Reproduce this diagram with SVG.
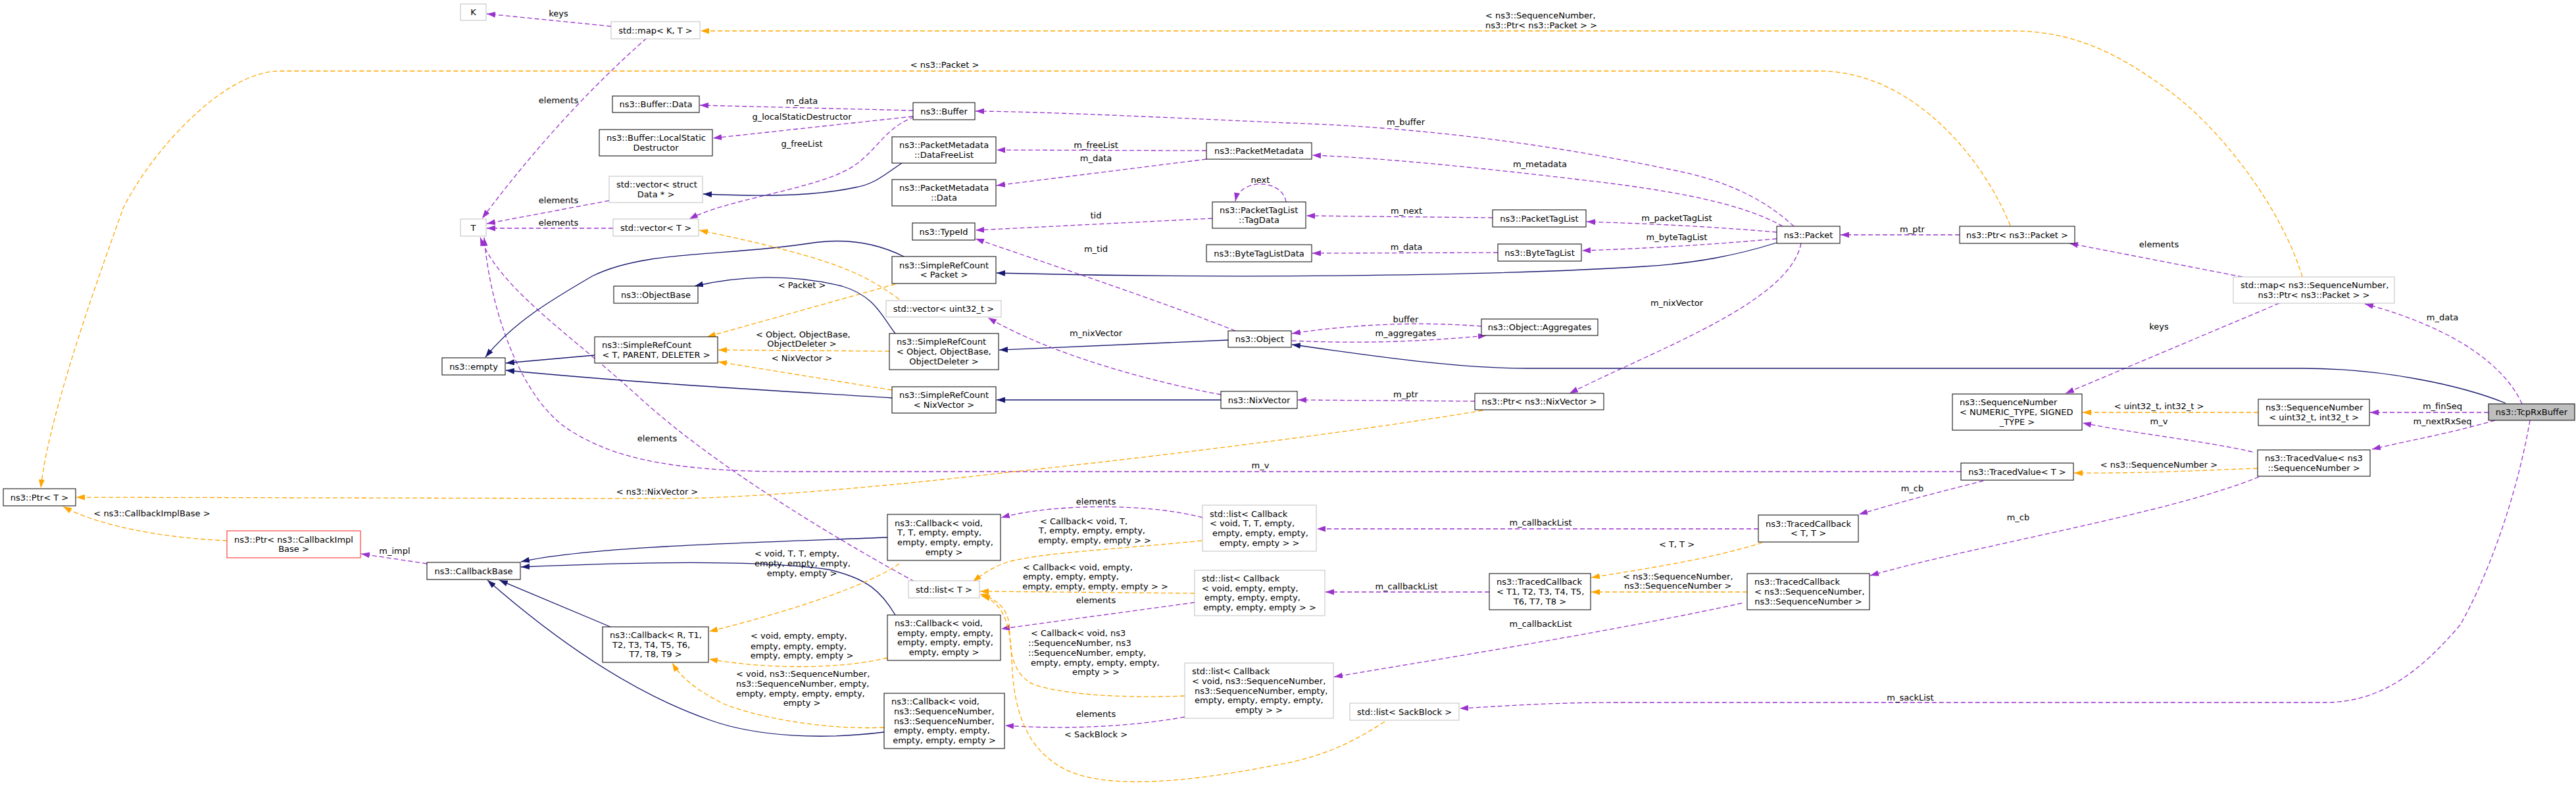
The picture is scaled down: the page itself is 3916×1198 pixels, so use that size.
<svg xmlns="http://www.w3.org/2000/svg" width="3916" height="1198" viewBox="0 0 3916 1198">
<style>
rect.n{fill:#fff;stroke:#000;stroke-width:1}
rect.g{fill:#fff;stroke:#bfbfbf;stroke-width:1}
rect.r{fill:#fff;stroke:#ff5050;stroke-width:1.3}
rect.h{fill:#bfbfbf;stroke:#000;stroke-width:1}
text{font-family:"DejaVu Sans","Liberation Sans",sans-serif;font-size:13px;fill:#000}
.m{text-anchor:middle}
path.ep{fill:none;stroke:#9a32cd;stroke-width:1.3;stroke-dasharray:7,4;marker-end:url(#ap)}
path.eo{fill:none;stroke:#ffa500;stroke-width:1.3;stroke-dasharray:7,4;marker-end:url(#ao)}
path.eb{fill:none;stroke:#191970;stroke-width:1.3;marker-end:url(#ab)}
</style>
<defs>
<marker id="ap" viewBox="0 0 10 10" refX="10" refY="5" markerWidth="13" markerHeight="9" markerUnits="userSpaceOnUse" orient="auto" preserveAspectRatio="none"><path d="M0,0L10,5L0,10z" fill="#9a32cd"/></marker>
<marker id="ao" viewBox="0 0 10 10" refX="10" refY="5" markerWidth="13" markerHeight="9" markerUnits="userSpaceOnUse" orient="auto" preserveAspectRatio="none"><path d="M0,0L10,5L0,10z" fill="#ffa500"/></marker>
<marker id="ab" viewBox="0 0 10 10" refX="10" refY="5" markerWidth="13" markerHeight="9" markerUnits="userSpaceOnUse" orient="auto" preserveAspectRatio="none"><path d="M0,0L10,5L0,10z" fill="#191970"/></marker>
</defs>
<rect width="3916" height="1198" fill="#fff"/>
<g id="connectors">
<path class="ep" d="M929,40 L740,21"/>
<path class="ep" d="M983,58 C890,140 808,232 733,332"/>
<path class="ep" d="M926,305 L740,340"/>
<path class="ep" d="M932,347 L740,347"/>
<path class="ep" d="M1390,884 C1300,835 1100,720 975,607 C870,510 760,440 730,361"/>
<path class="ep" d="M2981,717 L1200,717 C1000,717 920,690 860,650 C790,600 745,470 736,361"/>
<path class="eo" d="M3056,343 C3010,230 2900,108 2766,108 L425,108 C340,108 230,230 187,317 C165,380 75,620 62,742"/>
<path class="eo" d="M3500,421 C3470,320 3380,200 3300,140 C3220,80 3150,47 3060,47 L1065,47"/>
<path class="ep" d="M1388,168 L1064,160"/>
<path class="ep" d="M1388,177 L1084,210"/>
<path class="ep" d="M1390,178 C1340,195 1330,240 1280,262 C1220,290 1100,305 1048,333"/>
<path class="eb" d="M1371,248 C1345,265 1330,280 1300,285 C1230,300 1140,298 1069,295"/>
<path class="ep" d="M1834,229 L1515,228"/>
<path class="ep" d="M1834,242 L1515,282"/>
<path class="ep" d="M1843,332 L1483,350"/>
<path class="ep" d="M1955,307 C1950,272 1885,270 1878,306"/>
<path class="ep" d="M2269,331 L1986,328"/>
<path class="ep" d="M2277,384 L1995,385"/>
<path class="ep" d="M2727,344 C2690,310 2640,280 2560,262 C2400,228 2200,195 1960,187 C1800,180 1600,170 1483,169"/>
<path class="ep" d="M2710,344 C2650,310 2550,290 2400,273 C2250,255 2100,240 1995,236"/>
<path class="ep" d="M2701,353 C2600,344 2500,340 2412,337"/>
<path class="ep" d="M2701,363 C2600,372 2500,378 2405,381"/>
<path class="eb" d="M2701,369 C2640,388 2580,400 2500,405 C2300,418 1900,425 1515,415"/>
<path class="ep" d="M2738,370 C2720,460 2520,530 2386,598"/>
<path class="ep" d="M2979,357 L2798,357"/>
<path class="ep" d="M3409,421 L3146,370"/>
<path class="ep" d="M3465,461 L3140,598"/>
<path class="ep" d="M3834,614 C3800,540 3700,490 3595,462"/>
<path class="eb" d="M3809,613 C3740,585 3620,560 3500,560 L2320,560 C2200,560 2050,535 1964,524"/>
<path class="eb" d="M1867,517 L1519,532"/>
<path class="ep" d="M2252,496 C2150,488 2050,494 1964,507"/>
<path class="ep" d="M1964,518 C2050,522 2150,521 2260,510"/>
<path class="ep" d="M1878,503 C1770,460 1620,410 1483,363"/>
<path class="ep" d="M1856,600 C1750,580 1600,540 1502,483"/>
<path class="ep" d="M2242,610 L1973,608"/>
<path class="eb" d="M1856,608 L1515,608"/>
<path class="eo" d="M1361,432 L1075,512"/>
<path class="eo" d="M1352,534 L1092,532"/>
<path class="eo" d="M1356,593 L1092,550"/>
<path class="eb" d="M904,540 L769,552"/>
<path class="eb" d="M1356,605 C1200,595 1000,585 769,563"/>
<path class="eb" d="M1374,390 C1330,368 1280,362 1230,370 C1100,390 980,380 900,420 C840,455 780,490 738,543"/>
<path class="eb" d="M1361,507 C1340,480 1330,450 1280,435 C1200,415 1120,420 1056,435"/>
<path class="eo" d="M1367,455 C1320,420 1280,405 1230,390 C1160,370 1110,360 1063,350"/>
<path class="eo" d="M2254,624 C2100,650 1800,690 1542,717 C1300,745 1100,760 980,758 L116,756"/>
<path class="eo" d="M345,822 C250,818 150,800 96,770"/>
<path class="ep" d="M649,857 L549,842"/>
<path class="eb" d="M1349,817 C1150,825 900,830 792,854"/>
<path class="eb" d="M1361,935 C1340,900 1320,880 1260,866 C1150,850 950,855 792,862"/>
<path class="eb" d="M928,953 L759,882"/>
<path class="eb" d="M1344,1113 C1250,1125 1150,1120 1080,1095 C950,1050 830,960 741,882"/>
<path class="eo" d="M1367,857 C1320,890 1200,930 1078,960"/>
<path class="eo" d="M1349,1000 C1290,1015 1180,1020 1078,1002"/>
<path class="eo" d="M1344,1106 C1250,1110 1150,1090 1100,1070 C1060,1050 1035,1030 1022,1008"/>
<path class="ep" d="M1828,787 C1750,765 1600,765 1522,787"/>
<path class="eo" d="M1827,822 C1700,835 1580,840 1530,855 C1510,862 1495,872 1479,884"/>
<path class="eo" d="M1816,902 L1490,899"/>
<path class="ep" d="M1816,916 L1522,956"/>
<path class="eo" d="M1801,1058 C1700,1062 1610,1055 1570,1040 C1540,1025 1535,990 1535,960 C1535,930 1520,912 1490,903"/>
<path class="ep" d="M1801,1090 C1700,1108 1600,1108 1528,1103"/>
<path class="eo" d="M2105,1097 C2040,1140 1990,1155 1930,1165 C1800,1190 1680,1200 1620,1170 C1560,1140 1540,1080 1538,1000 C1536,950 1525,915 1492,906"/>
<path class="ep" d="M3846,639 C3825,760 3780,880 3740,950 C3680,1020 3620,1068 3534,1068 L2460,1068 C2350,1068 2280,1074 2219,1077"/>
<path class="ep" d="M3783,627 L3603,627"/>
<path class="ep" d="M3793,639 C3720,660 3660,670 3606,683"/>
<path class="eo" d="M3433,627 L3166,627"/>
<path class="ep" d="M3424,687 C3350,670 3250,660 3166,643"/>
<path class="eo" d="M3432,712 C3350,715 3250,720 3153,719"/>
<path class="ep" d="M3015,731 C2960,745 2900,760 2826,782"/>
<path class="ep" d="M3434,725 C3300,780 3000,830 2843,875"/>
<path class="ep" d="M2673,804 L2002,804"/>
<path class="eo" d="M2679,825 C2600,850 2500,865 2419,878"/>
<path class="ep" d="M2264,900 L2015,900"/>
<path class="eo" d="M2656,900 L2419,900"/>
<path class="ep" d="M2648,917 C2450,960 2200,1000 2028,1029"/>
<g id="edge-labels">
<text class="m" x="849" y="25">keys</text>
<text class="m" x="849" y="157">elements</text>
<text class="m" x="849" y="309">elements</text>
<text class="m" x="849" y="343">elements</text>
<text class="m" x="999" y="671">elements</text>
<text class="m" x="1916" y="712">m_v</text>
<text class="m" x="1436" y="103">&lt; ns3::Packet &gt;</text>
<text x="2258" y="28">&lt; ns3::SequenceNumber,</text>
<text x="2258" y="43">ns3::Ptr&lt; ns3::Packet &gt; &gt;</text>
<text class="m" x="1219" y="158">m_data</text>
<text class="m" x="1219" y="182">g_localStaticDestructor</text>
<text class="m" x="1219" y="223">g_freeList</text>
<text class="m" x="1666" y="225">m_freeList</text>
<text class="m" x="1666" y="245">m_data</text>
<text class="m" x="1666" y="332">tid</text>
<text class="m" x="1916" y="278">next</text>
<text class="m" x="2138" y="325">m_next</text>
<text class="m" x="2138" y="380">m_data</text>
<text class="m" x="2137" y="190">m_buffer</text>
<text class="m" x="2341" y="254">m_metadata</text>
<text class="m" x="2549" y="336">m_packetTagList</text>
<text class="m" x="2549" y="365">m_byteTagList</text>
<text class="m" x="2549" y="465">m_nixVector</text>
<text class="m" x="2907" y="353">m_ptr</text>
<text class="m" x="3282" y="376">elements</text>
<text class="m" x="3282" y="501">keys</text>
<text class="m" x="3713" y="487">m_data</text>
<text class="m" x="2137" y="490">buffer</text>
<text class="m" x="2137" y="511">m_aggregates</text>
<text class="m" x="1666" y="383">m_tid</text>
<text class="m" x="1666" y="511">m_nixVector</text>
<text class="m" x="2137" y="604">m_ptr</text>
<text class="m" x="1219" y="438">&lt; Packet &gt;</text>
<text x="1149" y="513">&lt; Object, ObjectBase,</text>
<text class="m" x="1219" y="527">ObjectDeleter &gt;</text>
<text class="m" x="1219" y="549">&lt; NixVector &gt;</text>
<text class="m" x="999" y="752">&lt; ns3::NixVector &gt;</text>
<text class="m" x="231" y="785">&lt; ns3::CallbackImplBase &gt;</text>
<text class="m" x="600" y="842">m_impl</text>
<text x="1147" y="846">&lt; void, T, T, empty,</text>
<text x="1147" y="861">empty, empty, empty,</text>
<text class="m" x="1219" y="876">empty, empty &gt;</text>
<text x="1141" y="971">&lt; void, empty, empty,</text>
<text x="1141" y="987">empty, empty, empty,</text>
<text class="m" x="1219" y="1001">empty, empty, empty &gt;</text>
<text x="1119" y="1029">&lt; void, ns3::SequenceNumber,</text>
<text x="1119" y="1044">ns3::SequenceNumber, empty,</text>
<text x="1119" y="1059">empty, empty, empty, empty,</text>
<text class="m" x="1219" y="1073">empty &gt;</text>
<text class="m" x="1666" y="767">elements</text>
<text x="1581" y="797">&lt; Callback&lt; void, T,</text>
<text x="1579" y="811">T, empty, empty, empty,</text>
<text class="m" x="1664" y="826">empty, empty, empty &gt; &gt;</text>
<text x="1555" y="867">&lt; Callback&lt; void, empty,</text>
<text x="1555" y="881">empty, empty, empty,</text>
<text class="m" x="1665" y="896">empty, empty, empty, empty &gt; &gt;</text>
<text class="m" x="1666" y="917">elements</text>
<text x="1567" y="967">&lt; Callback&lt; void, ns3</text>
<text x="1563" y="982">::SequenceNumber, ns3</text>
<text x="1563" y="997">::SequenceNumber, empty,</text>
<text x="1567" y="1012">empty, empty, empty, empty,</text>
<text class="m" x="1666" y="1026">empty &gt; &gt;</text>
<text class="m" x="1666" y="1090">elements</text>
<text class="m" x="1666" y="1121">&lt; SackBlock &gt;</text>
<text class="m" x="2904" y="1065">m_sackList</text>
<text class="m" x="3713" y="622">m_finSeq</text>
<text class="m" x="3713" y="645">m_nextRxSeq</text>
<text class="m" x="3282" y="622">&lt; uint32_t, int32_t &gt;</text>
<text class="m" x="3282" y="645">m_v</text>
<text class="m" x="3282" y="711">&lt; ns3::SequenceNumber &gt;</text>
<text class="m" x="2907" y="747">m_cb</text>
<text class="m" x="3068" y="791">m_cb</text>
<text class="m" x="2342" y="799">m_callbackList</text>
<text class="m" x="2549" y="832">&lt; T, T &gt;</text>
<text class="m" x="2138" y="896">m_callbackList</text>
<text x="2467" y="881">&lt; ns3::SequenceNumber,</text>
<text x="2469" y="895">ns3::SequenceNumber &gt;</text>
<text class="m" x="2342" y="953">m_callbackList</text>
</g>
</g>
<g id="K"><rect class="g" x="700" y="6" width="39" height="25"/><text class="m" x="719.5" y="23">K</text></g>
<g id="map_K_T"><rect class="g" x="929" y="33" width="135" height="26"/><text class="m" x="996.5" y="50.5">std::map&lt; K, T &gt;</text></g>
<g id="Buffer_Data"><rect class="n" x="931" y="146" width="132" height="25"/><text class="m" x="997" y="163">ns3::Buffer::Data</text></g>
<g id="Buffer_LocalStaticDestructor"><rect class="n" x="911" y="197" width="172" height="40"/><text x="922" y="214.2">ns3::Buffer::LocalStatic</text><text class="m" x="997" y="228.8">Destructor</text></g>
<g id="vector_struct_Data"><rect class="g" x="926" y="268" width="142" height="40"/><text x="937" y="285.2">std::vector&lt; struct</text><text class="m" x="997" y="299.8">Data * &gt;</text></g>
<g id="T"><rect class="g" x="700" y="333" width="39" height="26"/><text class="m" x="719.5" y="350.5">T</text></g>
<g id="vector_T"><rect class="g" x="932" y="333" width="130" height="26"/><text class="m" x="997" y="350.5">std::vector&lt; T &gt;</text></g>
<g id="Buffer"><rect class="n" x="1388" y="156" width="94" height="26"/><text class="m" x="1435" y="173.5">ns3::Buffer</text></g>
<g id="PacketMetadata_DataFreeList"><rect class="n" x="1356" y="208" width="158" height="40"/><text x="1367" y="225.2">ns3::PacketMetadata</text><text class="m" x="1435" y="239.8">::DataFreeList</text></g>
<g id="PacketMetadata_Data"><rect class="n" x="1356" y="273" width="158" height="40"/><text x="1367" y="290.2">ns3::PacketMetadata</text><text class="m" x="1435" y="304.8">::Data</text></g>
<g id="TypeId"><rect class="n" x="1387" y="339" width="95" height="26"/><text class="m" x="1434.5" y="356.5">ns3::TypeId</text></g>
<g id="PacketMetadata"><rect class="n" x="1834" y="217" width="160" height="25"/><text class="m" x="1914" y="234">ns3::PacketMetadata</text></g>
<g id="PacketTagList_TagData"><rect class="n" x="1843" y="307" width="142" height="40"/><text x="1854" y="324.2">ns3::PacketTagList</text><text class="m" x="1914" y="338.8">::TagData</text></g>
<g id="ByteTagListData"><rect class="n" x="1834" y="372" width="160" height="26"/><text class="m" x="1914" y="389.5">ns3::ByteTagListData</text></g>
<g id="PacketTagList"><rect class="n" x="2269" y="319" width="142" height="26"/><text class="m" x="2340" y="336.5">ns3::PacketTagList</text></g>
<g id="ByteTagList"><rect class="n" x="2277" y="371" width="127" height="26"/><text class="m" x="2340.5" y="388.5">ns3::ByteTagList</text></g>
<g id="Packet"><rect class="n" x="2701" y="344" width="96" height="26"/><text class="m" x="2749" y="361.5">ns3::Packet</text></g>
<g id="Ptr_Packet"><rect class="n" x="2979" y="344" width="175" height="26"/><text class="m" x="3066.5" y="361.5">ns3::Ptr&lt; ns3::Packet &gt;</text></g>
<g id="map_SequenceNumber_Ptr_Packet"><rect class="g" x="3395" y="421" width="245" height="40"/><text x="3406" y="438.2">std::map&lt; ns3::SequenceNumber,</text><text class="m" x="3517.5" y="452.8">ns3::Ptr&lt; ns3::Packet &gt; &gt;</text></g>
<g id="SequenceNumber_generic"><rect class="n" x="2968" y="599" width="197" height="55"/><text x="2979" y="616.3">ns3::SequenceNumber</text><text x="2979" y="631">&lt; NUMERIC_TYPE, SIGNED</text><text class="m" x="3066.5" y="645.7">_TYPE &gt;</text></g>
<g id="SequenceNumber_uint32"><rect class="n" x="3433" y="607" width="169" height="40"/><text x="3444" y="624.2">ns3::SequenceNumber</text><text class="m" x="3517.5" y="638.8">&lt; uint32_t, int32_t &gt;</text></g>
<g id="TcpRxBuffer"><rect class="h" x="3783" y="614" width="131" height="25"/><text class="m" x="3848.5" y="631">ns3::TcpRxBuffer</text></g>
<g id="TracedValue_SequenceNumber"><rect class="n" x="3432" y="684" width="171" height="40"/><text x="3443" y="701.2">ns3::TracedValue&lt; ns3</text><text class="m" x="3517.5" y="715.8">::SequenceNumber &gt;</text></g>
<g id="TracedValue_T"><rect class="n" x="2981" y="704" width="171" height="26"/><text class="m" x="3066.5" y="721.5">ns3::TracedValue&lt; T &gt;</text></g>
<g id="TracedCallback_T_T"><rect class="n" x="2673" y="783" width="152" height="41"/><text x="2684" y="800.7">ns3::TracedCallback</text><text class="m" x="2749" y="815.3">&lt; T, T &gt;</text></g>
<g id="TracedCallback_T1_T8"><rect class="n" x="2264" y="872" width="154" height="55"/><text x="2275" y="889.3">ns3::TracedCallback</text><text x="2275" y="904">&lt; T1, T2, T3, T4, T5,</text><text class="m" x="2341" y="918.7">T6, T7, T8 &gt;</text></g>
<g id="TracedCallback_SequenceNumber"><rect class="n" x="2656" y="872" width="186" height="55"/><text x="2667" y="889.3">ns3::TracedCallback</text><text x="2667" y="904">&lt; ns3::SequenceNumber,</text><text class="m" x="2749" y="918.7">ns3::SequenceNumber &gt;</text></g>
<g id="list_SackBlock"><rect class="g" x="2052" y="1069" width="166" height="26"/><text class="m" x="2135" y="1086.5">std::list&lt; SackBlock &gt;</text></g>
<g id="list_Callback_SequenceNumber"><rect class="g" x="1801" y="1008" width="226" height="84"/><text x="1812" y="1025.2">std::list&lt; Callback</text><text x="1812" y="1039.8">&lt; void, ns3::SequenceNumber,</text><text x="1816" y="1054.5">ns3::SequenceNumber, empty,</text><text x="1816" y="1069.2">empty, empty, empty, empty,</text><text class="m" x="1914" y="1083.8">empty &gt; &gt;</text></g>
<g id="list_Callback_empty"><rect class="g" x="1816" y="867" width="198" height="69"/><text x="1827" y="884">std::list&lt; Callback</text><text x="1827" y="898.7">&lt; void, empty, empty,</text><text x="1831" y="913.3">empty, empty, empty,</text><text class="m" x="1915" y="928">empty, empty, empty &gt; &gt;</text></g>
<g id="list_Callback_T_T"><rect class="g" x="1828" y="768" width="173" height="70"/><text x="1839" y="785.5">std::list&lt; Callback</text><text x="1839" y="800.2">&lt; void, T, T, empty,</text><text x="1843" y="814.8">empty, empty, empty,</text><text class="m" x="1914.5" y="829.5">empty, empty &gt; &gt;</text></g>
<g id="Callback_void_T_T"><rect class="n" x="1349" y="782" width="172" height="70"/><text x="1360" y="799.5">ns3::Callback&lt; void,</text><text x="1364" y="814.2">T, T, empty, empty,</text><text x="1364" y="828.8">empty, empty, empty,</text><text class="m" x="1435" y="843.5">empty &gt;</text></g>
<g id="list_T"><rect class="g" x="1381" y="883" width="108" height="26"/><text class="m" x="1435" y="900.5">std::list&lt; T &gt;</text></g>
<g id="Callback_void_empty"><rect class="n" x="1349" y="935" width="172" height="69"/><text x="1360" y="952">ns3::Callback&lt; void,</text><text x="1364" y="966.7">empty, empty, empty,</text><text x="1364" y="981.3">empty, empty, empty,</text><text class="m" x="1435" y="996">empty, empty &gt;</text></g>
<g id="Callback_void_SequenceNumber"><rect class="n" x="1344" y="1054" width="183" height="84"/><text x="1355" y="1071.2">ns3::Callback&lt; void,</text><text x="1359" y="1085.8">ns3::SequenceNumber,</text><text x="1359" y="1100.5">ns3::SequenceNumber,</text><text x="1359" y="1115.2">empty, empty, empty,</text><text class="m" x="1435.5" y="1129.8">empty, empty, empty &gt;</text></g>
<g id="Callback_R"><rect class="n" x="916" y="953" width="161" height="54"/><text x="927" y="969.8">ns3::Callback&lt; R, T1,</text><text x="931" y="984.5">T2, T3, T4, T5, T6,</text><text class="m" x="996.5" y="999.2">T7, T8, T9 &gt;</text></g>
<g id="CallbackBase"><rect class="n" x="649" y="855" width="142" height="26"/><text class="m" x="720" y="872.5">ns3::CallbackBase</text></g>
<g id="Ptr_CallbackImplBase"><rect class="r" x="345" y="807" width="203" height="41"/><text x="356" y="824.7">ns3::Ptr&lt; ns3::CallbackImpl</text><text class="m" x="446.5" y="839.3">Base &gt;</text></g>
<g id="Ptr_T"><rect class="n" x="5" y="743" width="110" height="26"/><text class="m" x="60" y="760.5">ns3::Ptr&lt; T &gt;</text></g>
<g id="empty"><rect class="n" x="672" y="544" width="96" height="26"/><text class="m" x="720" y="561.5">ns3::empty</text></g>
<g id="ObjectBase"><rect class="n" x="933" y="435" width="128" height="26"/><text class="m" x="997" y="452.5">ns3::ObjectBase</text></g>
<g id="SimpleRefCount_T_PARENT_DELETER"><rect class="n" x="904" y="512" width="187" height="40"/><text x="915" y="529.2">ns3::SimpleRefCount</text><text class="m" x="997.5" y="543.8">&lt; T, PARENT, DELETER &gt;</text></g>
<g id="SimpleRefCount_Packet"><rect class="n" x="1356" y="390" width="158" height="41"/><text x="1367" y="407.7">ns3::SimpleRefCount</text><text class="m" x="1435" y="422.3">&lt; Packet &gt;</text></g>
<g id="vector_uint32"><rect class="g" x="1347" y="457" width="175" height="25"/><text class="m" x="1434.5" y="474">std::vector&lt; uint32_t &gt;</text></g>
<g id="SimpleRefCount_Object"><rect class="n" x="1352" y="507" width="166" height="55"/><text x="1363" y="524.3">ns3::SimpleRefCount</text><text x="1363" y="539">&lt; Object, ObjectBase,</text><text class="m" x="1435" y="553.7">ObjectDeleter &gt;</text></g>
<g id="SimpleRefCount_NixVector"><rect class="n" x="1356" y="588" width="158" height="40"/><text x="1367" y="605.2">ns3::SimpleRefCount</text><text class="m" x="1435" y="619.8">&lt; NixVector &gt;</text></g>
<g id="Object"><rect class="n" x="1867" y="503" width="96" height="25"/><text class="m" x="1915" y="520">ns3::Object</text></g>
<g id="Object_Aggregates"><rect class="n" x="2252" y="485" width="177" height="25"/><text class="m" x="2340.5" y="502">ns3::Object::Aggregates</text></g>
<g id="NixVector"><rect class="n" x="1856" y="595" width="116" height="26"/><text class="m" x="1914" y="612.5">ns3::NixVector</text></g>
<g id="Ptr_NixVector"><rect class="n" x="2242" y="598" width="196" height="25"/><text class="m" x="2340" y="615">ns3::Ptr&lt; ns3::NixVector &gt;</text></g>
</svg>
